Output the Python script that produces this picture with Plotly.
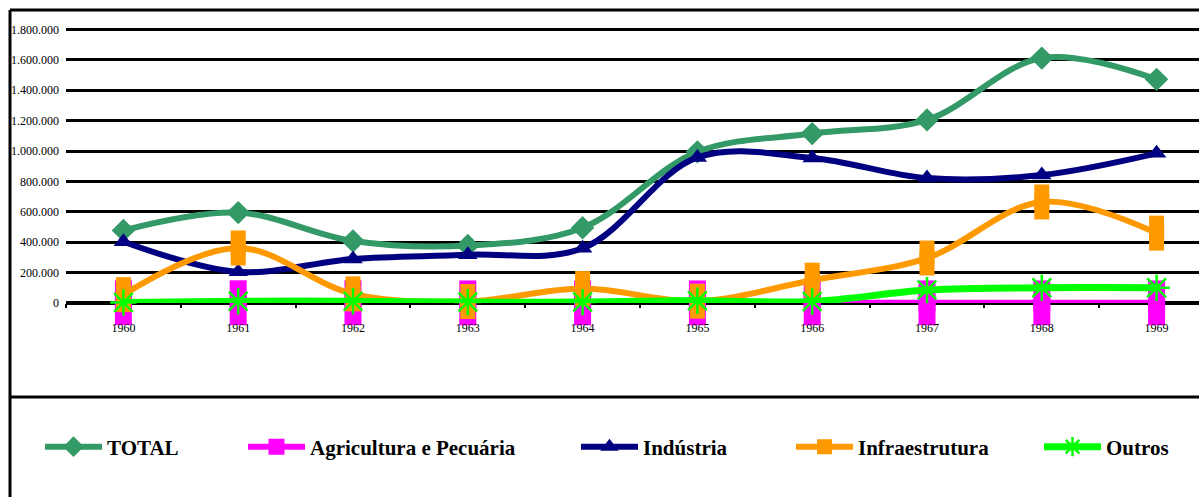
import plotly.graph_objects as go

years = ["1960", "1961", "1962", "1963", "1964", "1965", "1966", "1967", "1968", "1969"]
total = [478000, 595000, 408000, 378000, 495000, 995000, 1115000, 1205000, 1612000, 1472000]
agricultura = [2000, 2000, 2000, 1000, 1000, 1000, 1000, 1000, 1000, 1000]
industria = [403000, 205000, 290000, 318000, 360000, 958000, 955000, 822000, 842000, 985000]
infraestrutura = [55000, 362000, 60000, 10000, 95000, 12000, 150000, 296000, 665000, 460000]
outros = [3000, 12000, 12000, 6000, 6000, 15000, 10000, 85000, 100000, 100000]

names = ["TOTAL", "Agricultura e Pecuária", "Indústria", "Infraestrutura", "Outros"]
colors = ["#339966", "#FF00FF", "#000080", "#FF9900", "#00FF00"]

W, H = 1199, 497
L, T, B = 66, 28, 194
plot_w = W - L
plot_h = H - T - B

FONT = "'Liberation Serif', 'Times New Roman', Times, serif"

fig = go.Figure()

def line_trace(y, name, color, symbol, size, lw=6, legendwidth=None, mline=None):
    marker = dict(symbol=symbol, size=size, color=color)
    if mline:
        marker["line"] = mline
    return go.Scatter(
        x=years, y=y, name=name, mode="lines+markers",
        line=dict(color=color, width=lw, shape="spline", smoothing=1),
        marker=marker, cliponaxis=False, legendwidth=legendwidth,
    )

def tall_overlay(y, color, w, h):
    return go.Scatter(
        x=years, y=y, mode="markers", showlegend=False, hoverinfo="skip",
        marker=dict(symbol="line-ns", size=h, color=color,
                    line=dict(color=color, width=w)),
        cliponaxis=False,
    )

fig.add_trace(line_trace(total, names[0], colors[0], "diamond", 18, legendwidth=131))
fig.add_trace(line_trace(agricultura, names[1], colors[1], "square", 17, legendwidth=261))
fig.add_trace(tall_overlay(agricultura, colors[1], 17, 32))
fig.add_trace(line_trace(industria, names[2], colors[2], "triangle-up", 17, legendwidth=143))
fig.add_trace(line_trace(infraestrutura, names[3], colors[3], "square", 15, legendwidth=176))
fig.add_trace(tall_overlay(infraestrutura, colors[3], 15, 25))
fig.add_trace(line_trace(outros, names[4], colors[4], "asterisk-open", 22, lw=7,
                         legendwidth=66, mline=dict(color=colors[4], width=2.5)))

def px_x(p):
    return (p - L) / plot_w

def px_y(p):
    return (H - B - p) / plot_h

frame = dict(color="black", width=3)
shapes = [
    dict(type="line", xref="paper", yref="paper", x0=px_x(10), x1=px_x(W + 5),
         y0=px_y(10), y1=px_y(10), line=frame),
    dict(type="line", xref="paper", yref="paper", x0=px_x(10), x1=px_x(10),
         y0=px_y(10), y1=px_y(H + 5), line=frame),
    dict(type="line", xref="paper", yref="paper", x0=px_x(10), x1=px_x(W + 5),
         y0=px_y(397), y1=px_y(397), line=frame),
]

fig.update_layout(
    width=W, height=H,
    margin=dict(l=L, r=0, t=T, b=B, pad=0),
    paper_bgcolor="white", plot_bgcolor="white",
    separators=",.",
    font=dict(family=FONT, color="black", size=12),
    shapes=shapes,
    showlegend=True,
    legend=dict(
        orientation="h", x=px_x(40), xanchor="left", y=px_y(447), yanchor="middle",
        font=dict(family=FONT, size=21, weight="bold", color="black"),
        itemwidth=57, bgcolor="rgba(0,0,0,0)", borderwidth=0,
        traceorder="normal", tracegroupgap=0,
    ),
    xaxis=dict(
        type="category", range=[-0.5, -0.5 + plot_w / 114.8],
        showgrid=False, zeroline=False, showline=False,
        ticks="outside", tickson="boundaries", ticklen=4, tickwidth=2,
        tickcolor="black", ticklabelstandoff=16,
        tickfont=dict(family=FONT, size=12, color="black"),
    ),
    yaxis=dict(
        range=[0, 1810000], tickvals=[0, 200000, 400000, 600000, 800000, 1000000,
                                      1200000, 1400000, 1600000, 1800000],
        tickformat=",d", showgrid=True, gridcolor="black", gridwidth=3,
        zeroline=True, zerolinecolor="black", zerolinewidth=4,
        showline=False, ticks="", ticklabelstandoff=6,
        tickfont=dict(family=FONT, size=12, color="black"),
    ),
)

fig.write_html("out.html")
